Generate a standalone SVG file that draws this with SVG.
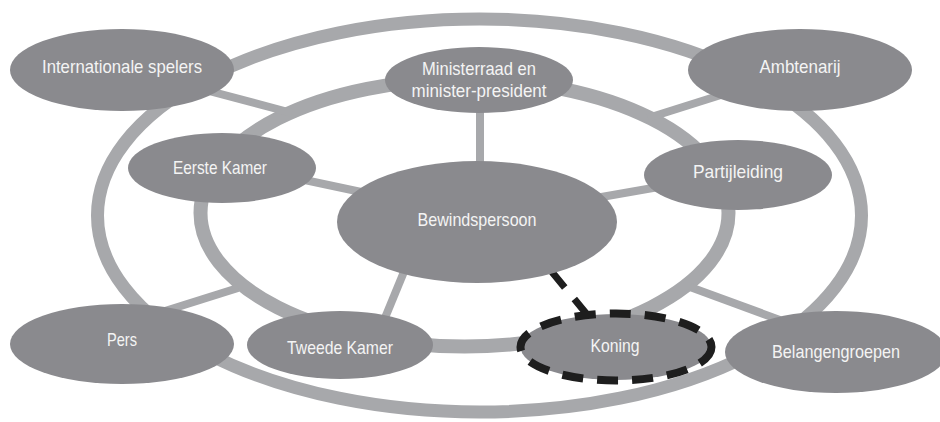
<svg xmlns="http://www.w3.org/2000/svg" width="940" height="422" viewBox="0 0 940 422">
<style>
.ring{fill:none;stroke:#a7a8ab}
.c{stroke:#a7a8ab;stroke-width:8;fill:none}
.n{fill:#8a8a8e}
.t{fill:#f4f4f4;font-family:"Liberation Sans Narrow","Liberation Sans",Arial,sans-serif;font-size:18.5px;text-anchor:middle}
.dash{stroke:#1e1e1e;stroke-width:7;fill:none;stroke-dasharray:20 15}
.kdash{stroke:#1e1e1e;stroke-width:8;fill:none;stroke-dasharray:21 14}
</style>
<rect width="940" height="422" fill="#ffffff"/>
<g id="rings">
<ellipse class="ring" cx="479.5" cy="215.5" rx="382" ry="196.5" stroke-width="13"/>
<ellipse class="ring" cx="464.5" cy="213" rx="264" ry="133.5" stroke-width="14"/>
</g>
<g id="connectors">
<line class="c" x1="122" y1="68" x2="292" y2="113"/>
<line class="c" x1="800" y1="70" x2="648" y2="118"/>
<line class="c" x1="130" y1="322" x2="238" y2="288"/>
<line class="c" x1="690" y1="287" x2="810" y2="331"/>
<line class="c" x1="480" y1="100" x2="480" y2="180"/>
<line class="c" x1="300" y1="179" x2="380" y2="196"/>
<line class="c" x1="590" y1="199" x2="670" y2="185"/>
<line class="c" x1="408" y1="262" x2="380" y2="330"/>
<line class="dash" x1="552" y1="272" x2="590" y2="318"/>
</g>
<g id="internationale-spelers">
<ellipse class="n" cx="122" cy="70" rx="112" ry="41"/>
<text class="t" x="122" y="73" textLength="160" lengthAdjust="spacingAndGlyphs">Internationale spelers</text>
</g>
<g id="ministerraad">
<ellipse class="n" cx="479" cy="80" rx="94" ry="33"/>
<text class="t" x="479" y="75" textLength="114" lengthAdjust="spacingAndGlyphs">Ministerraad en</text>
<text class="t" x="479" y="97" textLength="135" lengthAdjust="spacingAndGlyphs">minister-president</text>
</g>
<g id="ambtenarij">
<ellipse class="n" cx="800" cy="70" rx="112" ry="41"/>
<text class="t" x="800" y="73" textLength="81" lengthAdjust="spacingAndGlyphs">Ambtenarij</text>
</g>
<g id="eerste-kamer">
<ellipse class="n" cx="222" cy="168" rx="94" ry="35"/>
<text class="t" x="220" y="174" textLength="94" lengthAdjust="spacingAndGlyphs">Eerste Kamer</text>
</g>
<g id="partijleiding">
<ellipse class="n" cx="738" cy="175" rx="94" ry="35"/>
<text class="t" x="738" y="178" textLength="90" lengthAdjust="spacingAndGlyphs">Partijleiding</text>
</g>
<g id="bewindspersoon">
<ellipse class="n" cx="477" cy="222" rx="140" ry="61"/>
<text class="t" x="477" y="226" textLength="119" lengthAdjust="spacingAndGlyphs">Bewindspersoon</text>
</g>
<g id="pers">
<ellipse class="n" cx="122" cy="344" rx="112" ry="40"/>
<text class="t" x="122" y="346" textLength="30" lengthAdjust="spacingAndGlyphs">Pers</text>
</g>
<g id="tweede-kamer">
<ellipse class="n" cx="340" cy="345" rx="93" ry="34"/>
<text class="t" x="340" y="354" textLength="106" lengthAdjust="spacingAndGlyphs">Tweede Kamer</text>
</g>
<g id="koning">
<ellipse class="n" cx="616" cy="347" rx="95.5" ry="33"/>
<ellipse class="kdash" cx="616" cy="347" rx="95.5" ry="33.5"/>
<text class="t" x="615" y="352" textLength="49" lengthAdjust="spacingAndGlyphs">Koning</text>
</g>
<g id="belangengroepen">
<ellipse class="n" cx="836" cy="352" rx="111" ry="41"/>
<text class="t" x="836" y="358" textLength="128" lengthAdjust="spacingAndGlyphs">Belangengroepen</text>
</g>
</svg>
